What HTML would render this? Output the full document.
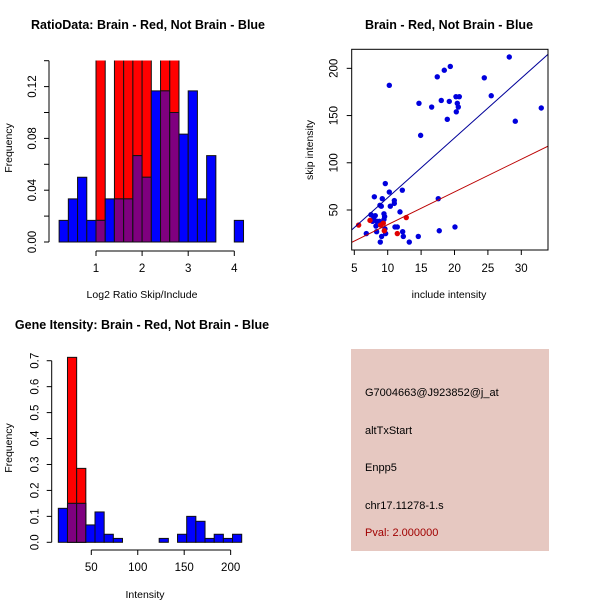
<!DOCTYPE html>
<html><head><meta charset="utf-8">
<style>
html,body{margin:0;padding:0;background:#fff;}
svg{display:block;font-family:"Liberation Sans",Arial,sans-serif;}
.t{font-weight:bold;font-size:12.5px;}
.tk{font-size:11.5px;}
.lb{font-size:10.5px;}
</style></head>
<body>
<svg id="s" width="600" height="600" viewBox="0 0 600 600" xmlns="http://www.w3.org/2000/svg">
<rect x="0" y="0" width="600" height="600" fill="#fff"/>
<text class="t" x="148" y="29" text-anchor="middle">RatioData: Brain - Red, Not Brain - Blue</text>
<text class="lb" x="142" y="298" text-anchor="middle">Log2 Ratio Skip/Include</text>
<text class="lb" x="0" y="0" transform="translate(12,148) rotate(-90)" text-anchor="middle">Frequency</text>
<text class="t" x="449" y="29" text-anchor="middle">Brain - Red, Not Brain - Blue</text>
<text class="lb" x="449" y="298" text-anchor="middle">include intensity</text>
<text class="lb" x="0" y="0" transform="translate(313,150) rotate(-90)" text-anchor="middle">skip intensity</text>
<text class="t" x="142" y="329" text-anchor="middle">Gene Itensity: Brain - Red, Not Brain - Blue</text>
<text class="lb" x="145" y="598" text-anchor="middle">Intensity</text>
<text class="lb" x="0" y="0" transform="translate(12,448) rotate(-90)" text-anchor="middle">Frequency</text>
<rect x="351" y="349" width="198" height="202" fill="#e6c8c1"/>
<g font-size="11px" fill="#000">
<text x="365" y="396">G7004663@J923852@j_at</text>
<text x="365" y="434">altTxStart</text>
<text x="365" y="471">Enpp5</text>
<text x="365" y="509">chr17.11278-1.s</text>
<text x="365" y="536" fill="#a00000">Pval: 2.000000</text>
</g>
<g id="g"></g>
</svg>
<script>
// Ratio histogram data
const ratioBreakStart = 0.2, ratioBinWidth = 0.2;
const ratioBlue = [0.0167,0.0333,0.05,0.0167,0.0167,0.0333,0.0333,0.0333,0.0667,0.05,0.1167,0.1167,0.1,0.0833,0.1167,0.0333,0.0667,0,0,0.0167];
const ratioRed  = [0,0,0,0,0.143,0,0.143,0.143,0.143,0.143,0,0.143,0.143,0,0,0,0,0,0,0];
const ratioYTicks = [0,0.02,0.04,0.06,0.08,0.10,0.12,0.14];
const ratioYLabels = ["0.00","","0.04","","0.08","","0.12",""];
const ratioXTicks = [1,2,3,4];
// Intensity histogram data
const intBreakStart = 14.5, intBinWidth = 9.87;
const intBlue = [0.131,0.15,0.15,0.067,0.117,0.031,0.015,0,0,0,0,0.015,0,0.031,0.1,0.081,0.015,0.031,0.015,0.031];
const intRed  = [0,0.713,0.285,0,0,0,0,0,0,0,0,0,0,0,0,0,0,0,0,0];
const intYTicks = [0,0.1,0.2,0.3,0.4,0.5,0.6,0.7];
const intYLabels = ["0.0","0.1","0.2","0.3","0.4","0.5","0.6","0.7"];
const intXTicks = [50,100,150,200];
// Scatter data
const blueX = [10.24,14.68,14.93,16.58,17.42,18.02,18.47,18.92,19.22,19.37,20.22,20.72,20.42,20.57,20.27,24.46,25.5,28.2,29.1,32.99,17.57,17.72,20.07,14.58,13.23,12.34,12.24,11.84,12.19,10.99,10.99,11.09,11.44,10.24,10.39,9.64,9.44,9.54,9.44,9.19,9.04,8.84,8.0,7.5,8.14,7.89,7.74,8.39,8.74,8.24,8.34,9.09,9.69,8.89,6.8,9.59];
const blueY = [182,163,129,159,191,166,198,146,165,202,170,170,163,159,154,190,171,212,144,158,62,28,32,22,16,22,27,48,71,60,57,32,32,69,54,78,46,43,40,62,54,55,64,45,44,41,38,38,38,33,27,22,25,16,25,30];
const redX = [5.65,7.35,8.94,9.34,9.49,11.44,12.78];
const redY = [34,39,34,36,28,25,42];
const blueFit = [-0.3, 6.33];
const redFit = [-0.2, 3.465];
const scXTicks = [5,10,15,20,25,30];
const scYTicks = [50,100,150,200];

const NS="http://www.w3.org/2000/svg";
const G=document.getElementById('g');
function mk(tag,attrs,parent){const e=document.createElementNS(NS,tag);for(const k in attrs)e.setAttribute(k,attrs[k]);(parent||G).appendChild(e);return e;}

function hist(o){
  const sx=v=>o.x0+(v-o.v0)*o.kx, sy=v=>o.y0-v*o.ky;
  const g=mk('g',{'clip-path':'url(#'+o.clip+')'});
  const cp=mk('clipPath',{id:o.clip});
  mk('rect',{x:0,y:o.yTop,width:300,height:300},cp);
  for(let i=0;i<o.blue.length;i++){
    const a=o.start+i*o.w,b=a+o.w;
    const xa=sx(a),xb=sx(b);
    if(o.red[i]>0){const r=mk('rect',{x:xa,y:sy(o.red[i]),width:xb-xa,height:sy(0)-sy(o.red[i]),fill:'#ff0000',stroke:'#111','stroke-width':1},g);
      
      }
    if(o.blue[i]>0){const m=o.red[i]>0?Math.min(o.red[i],o.blue[i]):0;
      const r=mk('rect',{x:xa,y:sy(o.blue[i]),width:xb-xa,height:sy(0)-sy(o.blue[i]),fill:'#0000ff',stroke:'#111','stroke-width':1},g);
      
      
      if(m>0){const p=mk('rect',{x:xa,y:sy(m),width:xb-xa,height:sy(0)-sy(m),fill:'#7f007f',stroke:'#111','stroke-width':1},g);
        
        }
    }
  }
  const ya=mk('line',{x1:o.ax,x2:o.ax,y1:sy(o.yt[0]),y2:sy(o.yt[o.yt.length-1]),stroke:'#000'});
  
  
  o.yt.forEach((v,i)=>{mk('line',{x1:o.ax-5,x2:o.ax,y1:sy(v),y2:sy(v),stroke:'#000'});
    if(o.yl[i]){const t=mk('text',{class:'tk',x:0,y:0,transform:`translate(${o.ax-13},${sy(v)}) rotate(-90)`,'text-anchor':'middle'});t.textContent=o.yl[i];
      
      }});
  const xa2=mk('line',{x1:sx(o.xt[0]),x2:sx(o.xt[o.xt.length-1]),y1:o.axY,y2:o.axY,stroke:'#000'});
  
  
  o.xt.forEach(v=>{mk('line',{x1:sx(v),x2:sx(v),y1:o.axY,y2:o.axY+5,stroke:'#000'});
    const t=mk('text',{class:'tk',x:sx(v),y:o.axY+21,'text-anchor':'middle'});t.textContent=v;
    
    });
}
hist({x0:96,v0:1,kx:46.1,y0:242,ky:1295,start:ratioBreakStart,w:ratioBinWidth,blue:ratioBlue,red:ratioRed,yt:ratioYTicks,yl:ratioYLabels,xt:ratioXTicks,ax:49,axY:251,clip:'c1',yTop:60.5});
hist({x0:91.3,v0:50,kx:0.929,y0:542.3,ky:259.4,start:intBreakStart,w:intBinWidth,blue:intBlue,red:intRed,yt:intYTicks,yl:intYLabels,xt:intXTicks,ax:51.7,axY:550,clip:'c2',yTop:350});

const L=351.7,R=548,T=49.3,B=250;
const sx=v=>354.3+(v-5)*6.68, sy=v=>257.2-v/1.059;
const cp=mk('clipPath',{id:'c3'});mk('rect',{x:L,y:T,width:R-L,height:B-T},cp);
const sg=mk('g',{'clip-path':'url(#c3)'});
blueX.forEach((x,i)=>{const c=mk('circle',{cx:sx(x),cy:sy(blueY[i]),r:2.7,fill:'#0000dd'},sg);
  
  });
redX.forEach((x,i)=>{const c=mk('circle',{cx:sx(x),cy:sy(redY[i]),r:2.7,fill:'#e00000'},sg);
  
  });
function fit(f,col,name){const x1=0,x2=40;const l=mk('line',{x1:sx(x1),y1:sy(f[0]+f[1]*x1),x2:sx(x2),y2:sy(f[0]+f[1]*x2),stroke:col,'stroke-width':1},sg);
  
  }
fit(blueFit,'#000099','blue-fit-line');fit(redFit,'#bb0000','red-fit-line');
const box=mk('rect',{x:L,y:T,width:R-L,height:B-T,fill:'none',stroke:'#000'});


scXTicks.forEach(v=>{mk('line',{x1:sx(v),x2:sx(v),y1:B,y2:B+5,stroke:'#000'});
  const t=mk('text',{class:'tk',x:sx(v),y:272,'text-anchor':'middle'});t.textContent=v;
  
  });
scYTicks.forEach(v=>{mk('line',{x1:L-5,x2:L,y1:sy(v),y2:sy(v),stroke:'#000'});
  const t=mk('text',{class:'tk',x:0,y:0,transform:`translate(${L-14},${sy(v)}) rotate(-90)`,'text-anchor':'middle'});t.textContent=v;
  
  });
</script>
</body></html>
